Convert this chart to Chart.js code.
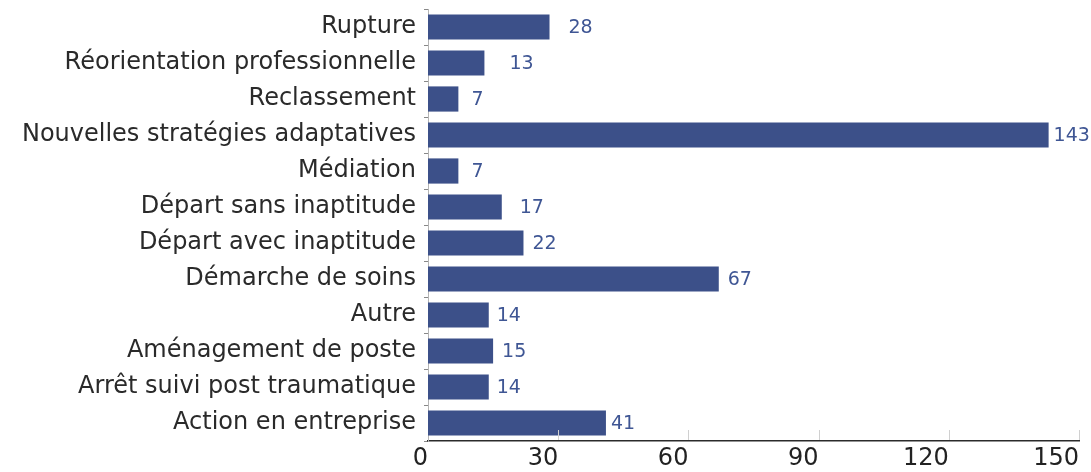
<!DOCTYPE html>
<html>
<head>
<meta charset="utf-8">
<script src="https://cdn.jsdelivr.net/npm/chart.js@4/dist/chart.umd.min.js"></script>
<style>
  html, body { margin: 0; padding: 0; background: #fff; }
  #wrap { width: 1091px; height: 472px; position: relative; }
</style>
</head>
<body>
<div id="wrap"><canvas id="motifsChart"></canvas></div>
<script>
// Categories, top to bottom
const categories = [
    'Rupture',
    'Réorientation professionnelle',
    'Reclassement',
    'Nouvelles stratégies adaptatives',
    'Médiation',
    'Départ sans inaptitude',
    'Départ avec inaptitude',
    'Démarche de soins',
    'Autre',
    'Aménagement de poste',
    'Arrêt suivi post traumatique',
    'Action en entreprise'
];
const counts = [28, 13, 7, 143, 7, 17, 22, 67, 14, 15, 14, 41];
const xTicks = [0, 30, 60, 90, 120, 150];

// gap between bar end and its value label (px)
const labelGap = [19, 25, 13, 5, 13, 18, 9, 9, 8, 9, 8, 5];

const FONT = "'DejaVu Sans', sans-serif";
const BAR_COLOR = '#3c5089';
const VALUE_COLOR = '#3f5694';

// value labels to the right of each bar
const valueLabels = {
    id: 'valueLabels',
    afterDatasetsDraw(chart) {
        const ctx = chart.ctx;
        const meta = chart.getDatasetMeta(0);
        ctx.save();
        ctx.font = '19px ' + FONT;
        ctx.fillStyle = VALUE_COLOR;
        ctx.textBaseline = 'middle';
        ctx.textAlign = 'left';
        meta.data.forEach((bar, i) => {
            ctx.fillText(String(counts[i]), bar.x + labelGap[i], bar.y + 1);
        });
        ctx.restore();
    }
};

// short inward tick marks on the bottom axis
const innerTicks = {
    id: 'innerTicks',
    afterDraw(chart) {
        const ctx = chart.ctx;
        const x = chart.scales.x;
        const bottom = chart.chartArea.bottom;
        ctx.save();
        ctx.strokeStyle = '#d0d0d0';
        ctx.lineWidth = 1;
        xTicks.forEach(v => {
            if (v === 0) return;
            const px = Math.round(x.getPixelForValue(v)) + 0.5;
            ctx.beginPath();
            ctx.moveTo(px, bottom - 11);
            ctx.lineTo(px, bottom - 1);
            ctx.stroke();
        });
        ctx.restore();
    }
};

const ctx = document.getElementById('motifsChart').getContext('2d');
const chart = new Chart(ctx, {
    type: 'bar',
    data: {
        labels: categories,
        datasets: [{
            data: counts,
            backgroundColor: BAR_COLOR,
            borderWidth: 0,
            barPercentage: 0.7,
            categoryPercentage: 1
        }]
    },
    options: {
        indexAxis: 'y',
        responsive: true,
        maintainAspectRatio: false,
        animation: false,
        layout: { padding: { top: 9, right: 12, left: 0, bottom: 0 } },
        plugins: {
            legend: { display: false },
            tooltip: { enabled: false }
        },
        scales: {
            x: {
                min: 0,
                max: 150,
                afterBuildTicks(scale) {
                    scale.ticks = xTicks.map(v => ({ value: v }));
                },
                afterFit(scale) {
                    scale.height = 31;
                    scale.paddingLeft = 0;
                    scale.paddingRight = 0;
                },
                grid: { display: false, drawTicks: false },
                border: { display: true, color: '#2b2b2b', width: 1.5 },
                ticks: {
                    color: '#222',
                    padding: 3,
                    align: 'end',
                    maxRotation: 0,
                    font: { family: FONT, size: 24 }
                }
            },
            y: {
                afterFit(scale) {
                    scale.width = 428;
                    scale.paddingTop = 0;
                    scale.paddingBottom = 0;
                },
                grid: {
                    offset: true,
                    drawOnChartArea: false,
                    drawTicks: true,
                    tickLength: 4,
                    color: '#888'
                },
                border: { display: true, color: '#b5b5b5', width: 1 },
                ticks: {
                    color: '#2a2a2a',
                    padding: 8,
                    font: { family: FONT, size: 24 }
                }
            }
        }
    },
    plugins: [valueLabels, innerTicks]
});
</script>
</body>
</html>
